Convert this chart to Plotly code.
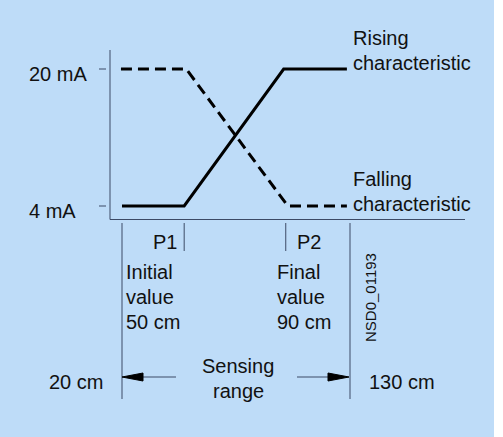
import plotly.graph_objects as go

# ---------------- data ----------------
current_ticks_mA = [4, 20]
current_tick_labels = ["4 mA", "20 mA"]

rising_x_cm = [20, 50, 98, 128.5]
rising_y_mA = [4, 4, 20, 20]
falling_x_cm = [19.5, 51, 100, 128.5]
falling_y_mA = [20, 20, 4, 4]

switch_points_cm = [50, 99]          # P1, P2 as drawn
switch_labels = ["P1", "P2"]
switch_texts = [["Initial", "value", "50 cm"], ["Final", "value", "90 cm"]]

range_cm = [20, 130]
range_labels = ["20 cm", "130 cm"]
range_text = ["Sensing", "range"]

curve_labels = [["Rising", "characteristic"], ["Falling", "characteristic"]]
drawing_id = "NSD0_01193"

# ---------------- geometry helpers (pixel -> data) ----------------
W, H = 503, 437
SX = 228 / 110.0      # px per cm
SY = 137 / 16.0       # px per mA


def X(px):
    return 20 + (px - 122) / SX


def Y(py):
    return 4 + (206 - py) / SY


BG = "#BEDCF8"
THIN = "#3c4a66"
FONT = "Liberation Sans, Arial, sans-serif"
FS = 20

fig = go.Figure()

fig.add_trace(go.Scatter(x=rising_x_cm, y=rising_y_mA, mode="lines",
                         line=dict(color="black", width=3), hoverinfo="skip",
                         showlegend=False))
fig.add_trace(go.Scatter(x=falling_x_cm, y=falling_y_mA, mode="lines",
                         line=dict(color="black", width=3, dash="11px,6px"),
                         hoverinfo="skip", showlegend=False))

shapes = []
# white strip at right edge
shapes.append(dict(type="rect", xref="paper", yref="paper", x0=494 / W, x1=1,
                   y0=0, y1=1, fillcolor="white", line=dict(width=0), layer="below"))


def seg(x0, y0, x1, y1, color=THIN, w=1):
    shapes.append(dict(type="line", x0=x0, y0=y0, x1=x1, y1=y1,
                       line=dict(color=color, width=w)))


# y axis and x axis
seg(X(110), Y(50), X(110), Y(219.5))
seg(X(110), Y(219.5), X(465), Y(219.5))
for v in current_ticks_mA:
    seg(X(99), v, X(106), v)

# sensing range boundary lines
for cm in range_cm:
    seg(cm, Y(223), cm, Y(399))
# switch point lines
for cm in switch_points_cm:
    seg(cm, Y(223), cm, Y(251))

# arrows
ya = Y(377)
seg(X(140), ya, X(176), ya)
seg(X(297), ya, X(332), ya)
hh = 4 / SY


def tri(tip_x, base_x):
    return (f"M {tip_x} {ya} L {base_x} {ya + hh} L {base_x} {ya - hh} Z")


shapes.append(dict(type="path", path=tri(range_cm[0], X(143)),
                   fillcolor="black", line=dict(color="black", width=1)))
shapes.append(dict(type="path", path=tri(X(349), X(328)),
                   fillcolor="black", line=dict(color="black", width=1)))

ann = []


def txt(x, y, s, xa="left", size=FS, angle=0):
    ann.append(dict(x=x, y=y, text=s, showarrow=False, xanchor=xa,
                    yanchor="middle", textangle=angle,
                    font=dict(family=FONT, size=size, color="#111111")))


# y tick labels
txt(X(27), Y(74), current_tick_labels[1])
txt(X(27), Y(211), current_tick_labels[0])

# curve labels
txt(X(351), Y(38), curve_labels[0][0])
txt(X(351), Y(63), curve_labels[0][1])
txt(X(351), Y(179), curve_labels[1][0])
txt(X(351), Y(204), curve_labels[1][1])

# switch point labels
txt(X(179), Y(242), switch_labels[0], xa="right")
txt(X(295), Y(242), switch_labels[1], xa="left")

for i, lines in enumerate(switch_texts):
    x0 = X(124) if i == 0 else X(275)
    for j, s in enumerate(lines):
        txt(x0, Y(272 + 25 * j), s)

# range labels
txt(X(47), Y(382), range_labels[0])
txt(X(367), Y(382), range_labels[1])
txt(X(238), Y(366), range_text[0], xa="center")
txt(X(238), Y(391), range_text[1], xa="center")

# drawing id
txt(X(370), Y(298), drawing_id, xa="center", size=15, angle=-90)

fig.update_layout(
    width=W, height=H, autosize=False,
    margin=dict(l=0, r=0, t=0, b=0, pad=0),
    paper_bgcolor=BG, plot_bgcolor=BG,
    xaxis=dict(range=[X(0), X(W)], visible=False, fixedrange=True),
    yaxis=dict(range=[Y(H), Y(0)], visible=False, fixedrange=True),
    shapes=shapes, annotations=ann, showlegend=False,
)

fig.write_html(
    "out.html",
    config={"displayModeBar": False},
    post_script="document.body.style.margin='0';document.body.style.overflow='hidden';",
)
